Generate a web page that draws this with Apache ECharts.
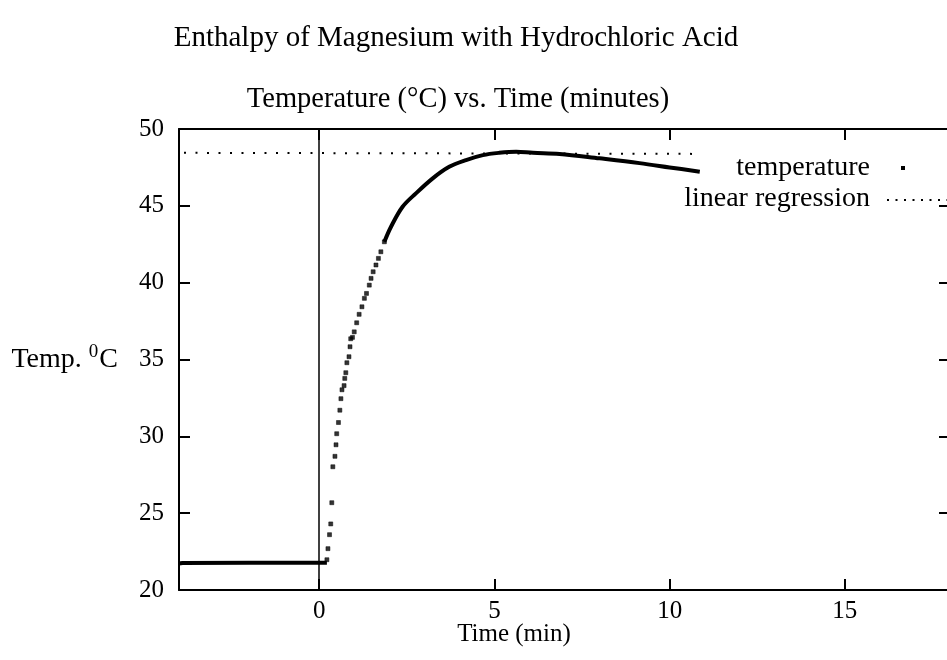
<!DOCTYPE html>
<html>
<head>
<meta charset="utf-8">
<title>Enthalpy of Magnesium with Hydrochloric Acid</title>
<script src="https://cdn.jsdelivr.net/npm/echarts@6/dist/echarts.min.js"></script>
<style>
  html, body { margin: 0; padding: 0; background: #fff; }
  #chart { width: 947px; height: 660px; }
</style>
</head>
<body>
<div id="chart"></div>
<script>
// Baseline before the magnesium is added (minutes, °C)
const baselineTime = [-4.0, -3.9, -2.0, 0.0, 0.22];
const baselineTemp = [21.72, 21.76, 21.77, 21.78, 21.78];

// Fast rise right after mixing: individual readings
const riseTime = [0.22, 0.25, 0.295, 0.33, 0.36, 0.39, 0.45, 0.48, 0.5, 0.55, 0.59, 0.62, 0.65,
  0.71, 0.73, 0.76, 0.79, 0.85, 0.88, 0.9, 0.95, 1.0, 1.07, 1.14, 1.22, 1.29, 1.35, 1.43,
  1.48, 1.54, 1.62, 1.69, 1.76, 1.86];
const riseTemp = [21.97, 22.69, 23.6, 24.3, 25.68, 28.02, 28.7, 29.45, 30.17, 30.9, 31.7, 32.45, 33.03,
  33.3, 33.77, 34.14, 34.79, 35.18, 35.83, 36.35, 36.44, 36.8, 37.39, 37.94, 38.43, 38.98, 39.3, 39.84,
  40.28, 40.71, 41.15, 41.58, 42.01, 42.66];

// Approach to the maximum and slow cooling afterwards
const plateauTime = [1.86, 2.05, 2.38, 2.76, 3.24, 3.71, 4.19, 4.67, 5.14, 5.62, 6.1, 6.86, 8.0, 9.14, 10.0, 10.86];
const plateauTemp = [42.66, 43.64, 44.94, 45.81, 46.79, 47.54, 47.98, 48.3, 48.45, 48.52, 48.45, 48.38, 48.09, 47.78, 47.5, 47.22];

// Linear regression line (end points)
const regressionTime = [-4.0, 10.86];
const regressionTemp = [48.45, 48.38];

// Axis ticks
const xTicks = [0, 5, 10, 15];
const yTicks = [20, 25, 30, 35, 40, 45, 50];

const zip = (a, b) => a.map((v, i) => [v, b[i]]);

const FONT = '"Liberation Serif", "Times New Roman", serif';
const INK = '#000';

const chart = echarts.init(document.getElementById('chart'), null, { renderer: 'canvas' });

const frameAxis = {
  axisLine: { show: true, onZero: false, lineStyle: { color: INK, width: 2 } },
  splitLine: { show: false },
};

chart.setOption({
  animation: false,
  backgroundColor: '#fff',
  title: [
    {
      text: 'Enthalpy of Magnesium with Hydrochloric Acid',
      left: 451, top: 19, textAlign: 'center',
      textStyle: { fontFamily: FONT, fontSize: 29, fontWeight: 'normal', color: INK }
    },
    {
      text: 'Temperature (°C) vs. Time (minutes)',
      left: 453, top: 80, textAlign: 'center',
      textStyle: { fontFamily: FONT, fontSize: 28.5, fontWeight: 'normal', color: INK }
    }
  ],
  grid: { left: 179, top: 129, width: 771, height: 461, containLabel: false, outerBoundsMode: 'none' },
  xAxis: [
    Object.assign({}, frameAxis, {
      type: 'value', position: 'bottom', min: -4, max: 18,
      axisTick: { show: true, inside: true, length: 11, lineStyle: { color: INK, width: 2 }, customValues: xTicks },
      axisLabel: { show: true, margin: 9, customValues: xTicks, fontFamily: FONT, fontSize: 25, color: INK }
    }),
    Object.assign({}, frameAxis, {
      type: 'value', position: 'top', min: -4, max: 18,
      axisTick: { show: true, inside: true, length: 11, lineStyle: { color: INK, width: 2 }, customValues: xTicks },
      axisLabel: { show: false }
    })
  ],
  yAxis: [
    Object.assign({}, frameAxis, {
      type: 'value', position: 'left', min: 20, max: 50, interval: 5,
      axisTick: { show: true, inside: true, length: 11, lineStyle: { color: INK, width: 2 }, customValues: yTicks },
      axisLabel: { show: true, margin: 15, customValues: yTicks, fontFamily: FONT, fontSize: 25, color: INK }
    }),
    {
      // right-hand mirror ticks; the border itself lies just past the canvas edge
      type: 'value', position: 'right', min: 20, max: 50, interval: 5,
      axisLine: { show: false, onZero: false },
      splitLine: { show: false },
      axisTick: { show: true, inside: true, length: 11, lineStyle: { color: INK, width: 2 }, customValues: yTicks },
      axisLabel: { show: false }
    }
  ],
  series: [
    {
      name: 'linear regression',
      type: 'line',
      data: zip(regressionTime, regressionTemp),
      showSymbol: false,
      symbol: 'none',
      lineStyle: { color: INK, width: 2, type: [2, 9.5], dashOffset: 6.5 },
      markLine: {
        silent: true, symbol: 'none', animation: false,
        label: { show: false },
        lineStyle: { color: INK, width: 1.5, type: 'solid' },
        data: [{ xAxis: 0 }]
      },
      z: 2
    },
    {
      name: 'temperature',
      type: 'line',
      data: zip(baselineTime, baselineTemp),
      symbol: 'none',
      lineStyle: { color: INK, width: 4 },
      z: 3
    },
    {
      name: 'temperature',
      type: 'scatter',
      data: zip(riseTime, riseTemp),
      symbol: 'rect',
      symbolSize: 4,
      itemStyle: { color: INK, borderColor: INK, borderWidth: 0.6 },
      z: 3
    },
    {
      name: 'temperature',
      type: 'line',
      data: zip(plateauTime, plateauTemp),
      symbol: 'none',
      smooth: 0.35,
      lineStyle: { color: INK, width: 4 },
      z: 3
    }
  ],
  graphic: [
    // y-axis title
    {
      type: 'text', right: 947 - 118, top: 343, silent: true,
      style: {
        text: '{a|Temp. }{s|0}{a|C}',
        fill: INK,
        rich: {
          a: { fontFamily: FONT, fontSize: 28, lineHeight: 33, fill: INK },
          s: { fontFamily: FONT, fontSize: 19, lineHeight: 33, verticalAlign: 'top', fill: INK, padding: [0, 1, 0, 0] }
        }
      }
    },
    // x-axis title
    {
      type: 'text', x: 514, y: 634, silent: true,
      style: { text: 'Time (min)', fontFamily: FONT, fontSize: 25, fill: INK, align: 'center', verticalAlign: 'middle' }
    },
    // key
    {
      type: 'text', x: 870, y: 168, silent: true,
      style: { text: 'temperature', fontFamily: FONT, fontSize: 28, fill: INK, align: 'right', verticalAlign: 'middle' }
    },
    { type: 'rect', shape: { x: 901, y: 166, width: 4, height: 4 }, style: { fill: INK }, silent: true },
    {
      type: 'text', x: 870, y: 199, silent: true,
      style: { text: 'linear regression', fontFamily: FONT, fontSize: 28, fill: INK, align: 'right', verticalAlign: 'middle' }
    },
    {
      type: 'line', silent: true,
      shape: { x1: 887, y1: 200, x2: 947, y2: 200 },
      style: { stroke: INK, lineWidth: 2, lineDash: [2, 6.5] }
    }
  ]
});
</script>
</body>
</html>
